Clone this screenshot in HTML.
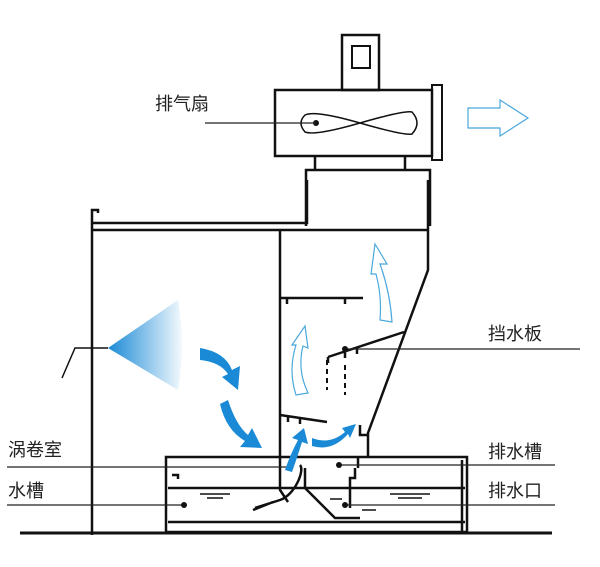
<!DOCTYPE html>
<html><head><meta charset="utf-8"><style>
html,body{margin:0;padding:0;background:#fff}
svg{display:block}
text{font-family:"Liberation Sans","Noto Sans CJK SC",sans-serif;font-size:18px;fill:#222}
</style></head><body>
<svg width="600" height="567" viewBox="0 0 600 567" xmlns="http://www.w3.org/2000/svg">
<defs>
<linearGradient id="cone" x1="0" x2="1" y1="0" y2="0">
<stop offset="0" stop-color="#1a8ad6"/><stop offset="1" stop-color="#1a8ad6" stop-opacity="0.05"/>
</linearGradient>
</defs>
<g fill="none" stroke="#111" stroke-width="2.5">
<!-- fan -->
<rect x="342" y="35" width="37" height="55"/>
<rect x="352" y="46" width="18" height="22" stroke-width="2"/>
<rect x="275" y="90" width="157" height="66"/>
<rect x="432" y="85" width="10" height="75" stroke-width="2"/>
<path d="M315 156V170M405 156V170"/>
<path d="M306 226V170H430V226"/>
<!-- upper frame -->
<path d="M92 535V210h6v3"/>
<path d="M92 223H307V180"/>
<path d="M92 230H428"/>
<path d="M428 180V270L368 433V458"/>
<path d="M280 230V455"/>
<path d="M280 298H363M287 298v6M345 298v6"/>
<path d="M328 357L404 332M328 357v6M345 352v6M357 348v6"/>
<path d="M280 415L327 422M288 417v5M300 419v5"/>
<path d="M360 425v10h8"/>
<!-- tank -->
<rect x="166" y="457" width="301" height="75"/>
<path d="M462 460V532"/>
<path d="M168 488H465"/>
<path d="M168 522H465"/>
<path d="M20 533H552" stroke-width="3"/>
<path d="M172 475h6v4"/>
<path d="M280 455v35l8 12M300 465c5 5 -5 30 -20 35L255 508M253 510l20 -8M305 468v20l30 30h25"/>
<path d="M355 468v10h-5v30M358 458v10"/>
<path d="M327 360v30M345 365v30" stroke-dasharray="5 4" stroke-width="2"/>
</g>
<g stroke="#111" stroke-width="1.5" fill="none">
<path d="M200 494h30M207 498h16M390 494h40M398 498h24M330 499h12"/>
<path d="M362 510h14"/>
<!-- fan blades -->
<path d="M305 115 Q315 110 360 123 Q405 110 412 112 Q422 123 412 134 Q405 136 360 123 Q315 136 305 132 Q297 123 305 115Z"/>
<path d="M62 378L75 348H108"/>
</g>
<circle cx="316" cy="123" r="3" fill="#111"/>
<!-- leader lines -->
<g stroke="#222" stroke-width="1.3">
<path d="M205 123H316"/>
<path d="M345 349H580"/>
<path d="M7 467H290"/>
<path d="M7 505H185"/>
<path d="M340 465H555"/>
<path d="M345 505H555"/>
</g>
<g fill="#111"><circle cx="184" cy="505" r="3"/><circle cx="339" cy="465" r="3"/><circle cx="345" cy="505" r="3"/><circle cx="345" cy="349" r="3"/></g>
<!-- cone -->
<path d="M108 348L178 300Q186 345 178 390Z" fill="url(#cone)"/>
<!-- blue arrows -->
<g fill="#1a8ad6">
<path d="M200 348Q225 352 232 370L240 366L238 390L222 377L228 374Q220 362 200 360Z"/>
<path d="M228 400Q236 425 248 435L252 428L262 448L240 447L245 441Q226 430 220 404Z"/>
<path d="M285 470Q290 455 298 440L292 438L304 428L308 444L302 442Q297 458 292 472Z"/>
<path d="M312 438Q330 445 345 432L342 428L356 424L350 438L348 434Q332 452 312 446Z"/>
</g>
<g fill="none" stroke="#4aa8dc" stroke-width="1.2">
<path d="M296 395Q288 370 296 345L292 345L305 326L308 348L303 346Q297 370 308 393Z"/>
<path d="M380 320Q382 296 376 274L371 274L375 244L387 264L380 264Q390 292 392 322Z"/>
<path d="M468 108H500V100L528 118L500 136V128H468Z"/>
</g>
<!-- labels -->
<text x="155" y="110">排气扇</text>
<text x="488" y="340">挡水板</text>
<text x="8" y="456">涡卷室</text>
<text x="8" y="497">水槽</text>
<text x="488" y="458">排水槽</text>
<text x="488" y="497">排水口</text>
</svg>
</body></html>
